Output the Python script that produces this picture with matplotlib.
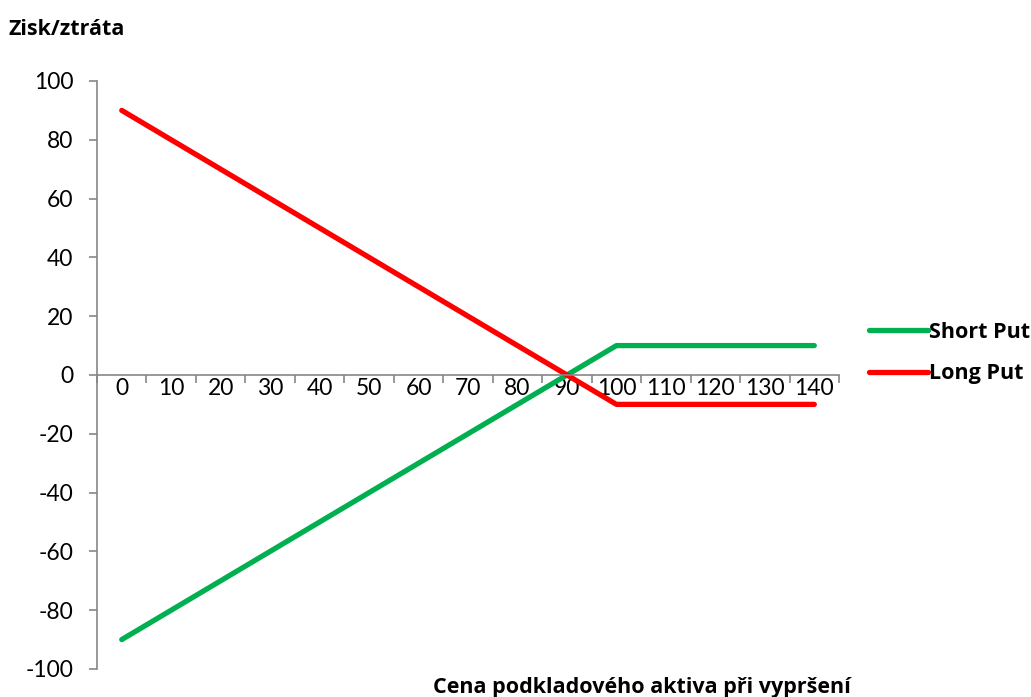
import matplotlib.pyplot as plt
import numpy as np

# underlying price at expiry (categories)
prices = [0, 10, 20, 30, 40, 50, 60, 70, 80, 90, 100, 110, 120, 130, 140]
# profit / loss of the two positions
short_put = [-90, -80, -70, -60, -50, -40, -30, -20, -10, 0, 10, 10, 10, 10, 10]
long_put = [90, 80, 70, 60, 50, 40, 30, 20, 10, 0, -10, -10, -10, -10, -10]
y_ticks = [-100, -80, -60, -40, -20, 0, 20, 40, 60, 80, 100]

plt.rcParams['font.family'] = ['Lato', 'DejaVu Sans']
bold_font = {'family': ['Open Sans', 'DejaVu Sans'], 'weight': 'bold', 'size': 15.5}

fig = plt.figure(figsize=(10.31, 6.97), dpi=100)
ax = fig.add_axes([0.0941, 0.0402, 0.7197, 0.8436])

pos = np.arange(len(prices))
ax.plot(pos, short_put, color='#00B050', lw=3.8, solid_capstyle='round', label='Short Put')
ax.plot(pos, long_put, color='#FF0000', lw=3.8, solid_capstyle='round', label='Long Put')

ax.set_xlim(-0.5, len(prices) - 0.5)
ax.set_ylim(-100, 100)

# axis lines: y on the left, x crossing at zero
for s in ['top', 'right']:
    ax.spines[s].set_visible(False)
ax.spines['bottom'].set_position(('data', 0))
ax.spines['bottom'].set_color('#868686')
ax.spines['left'].set_color('#868686')
ax.spines['bottom'].set_linewidth(1.2)
ax.spines['left'].set_linewidth(1.2)

ax.set_yticks(y_ticks)
ax.set_yticklabels([str(v) for v in y_ticks])
ax.tick_params(axis='y', direction='out', length=6, width=1.2, color='#868686',
               labelsize=16.5, pad=11)

# category labels centred, tick marks between categories
ax.set_xticks(pos)
ax.set_xticklabels([str(p) for p in prices])
ax.set_xticks(np.arange(-0.5, len(prices), 1), minor=True)
ax.tick_params(axis='x', which='major', length=0, labelsize=16.5, pad=2)
ax.tick_params(axis='x', which='minor', direction='out', length=6, width=1.2, color='#868686')

fig.text(0.008, 0.958, 'Zisk/ztráta', ha='left', va='center', fontdict=bold_font)
fig.text(0.623, 0.013, 'Cena podkladového aktiva při vypršení', ha='center', va='center',
         fontdict=bold_font)

leg = fig.legend(loc='center left', bbox_to_anchor=(0.824, 0.4935), frameon=False,
                 handlelength=2.75, handletextpad=0.05, labelspacing=0.95,
                 prop=bold_font)

fig.savefig('out.png', dpi=100)
